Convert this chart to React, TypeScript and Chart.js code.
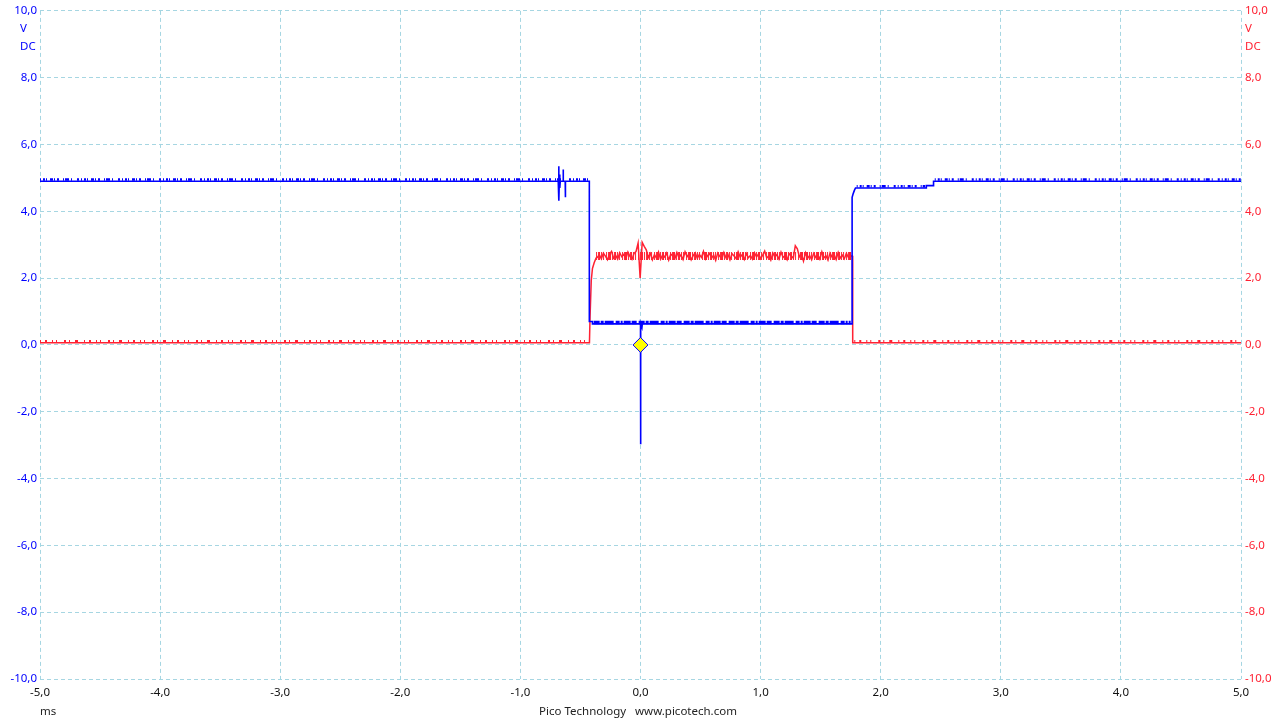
import React, { useEffect, useRef } from "react";
import { Chart, registerables } from "chart.js";

Chart.register(...registerables);

// ---- axis data ----
const xTickValues = [-5, -4, -3, -2, -1, 0, 1, 2, 3, 4, 5];
const xTickLabels = ["-5,0", "-4,0", "-3,0", "-2,0", "-1,0", "0,0", "1,0", "2,0", "3,0", "4,0", "5,0"];
const yTickValues = [10, 8, 6, 4, 2, 0, -2, -4, -6, -8, -10];
const yTickLabels = ["10,0", "8,0", "6,0", "4,0", "2,0", "0,0", "-2,0", "-4,0", "-6,0", "-8,0", "-10,0"];
const unitLabels = ["V", "DC"];
const xUnitLabel = "ms";
const footerLabel = "Pico Technology   www.picotech.com";

// ---- channel A (blue) breakpoints: [ms, V] ----
const blueTrace: [number, number][] = [
  [-5, 4.9], [-0.685, 4.9], [-0.681, 5.35], [-0.679, 4.32], [-0.676, 4.9],
  [-0.673, 5.1], [-0.671, 4.7], [-0.668, 4.9], [-0.644, 4.9], [-0.644, 5.25],
  [-0.642, 4.9], [-0.627, 4.9], [-0.626, 4.42], [-0.624, 4.9], [-0.426, 4.9],
  [-0.426, 0.7], [-0.4, 0.7], [-0.4, 0.63], [0, 0.63], [0, -2.97], [0.003, 0.63],
  [0.012, 0.52], [0.015, 0.63], [1.762, 0.63], [1.762, 4.42], [1.77, 4.52],
  [1.78, 4.62], [1.79, 4.7], [2.38, 4.7], [2.38, 4.77], [2.44, 4.77], [2.44, 4.9], [5, 4.9],
];

// ---- channel B (red) ----
const redLowBefore: [number, number][] = [[-5, 0.066], [-0.425, 0.066]];
const redRise: [number, number][] = [[-0.42, 0.85], [-0.41, 1.93], [-0.4, 2.29], [-0.385, 2.47], [-0.37, 2.6]];
const redPlateauStart = -0.36;
const redSampleStep = 0.017;
const redPlateau = [
  2.62, 2.70, 2.58, 2.75, 2.66, 2.55, 2.72, 2.80, 2.60, 2.68, 2.57, 2.76, 2.64, 2.71, 2.59, 2.78, 2.65, 2.56, 2.74, 2.80,
  3.05, 2.00, 3.07, 2.95, 2.85, 2.62, 2.74, 2.55, 2.70, 2.60, 2.78, 2.57, 2.69, 2.63, 2.75, 2.54, 2.72, 2.66, 2.58, 2.77,
  2.61, 2.70, 2.56, 2.79, 2.64, 2.73, 2.55, 2.68, 2.76, 2.59, 2.71, 2.62, 2.80, 2.57, 2.67, 2.74, 2.60, 2.69, 2.53, 2.75,
  2.65, 2.58, 2.77, 2.62, 2.71, 2.55, 2.73, 2.66, 2.59, 2.79, 2.63, 2.70, 2.56, 2.74, 2.61, 2.68, 2.57, 2.76, 2.64, 2.72,
  2.58, 2.69, 2.81, 2.60, 2.67, 2.54, 2.75, 2.63, 2.71, 2.57, 2.78, 2.62, 2.68, 2.55, 2.73, 2.66, 2.60, 2.97, 2.88, 2.64,
  2.72, 2.51, 2.76, 2.59, 2.68, 2.55, 2.74, 2.62, 2.70, 2.57, 2.79, 2.61, 2.67, 2.54, 2.75, 2.63, 2.71, 2.56, 2.77, 2.60,
  2.69, 2.58, 2.74, 2.62, 2.67,
];
const redFall: [number, number][] = [[1.765, 2.66], [1.767, 0.066]];
const redLowAfter: [number, number][] = [[5, 0.066]];

// ---- quantisation noise bands: [start ms, end ms, V] ----
const blueNoiseBands: [number, number, number][] = [
  [-5, -0.43, 4.95], [1.8, 2.37, 4.75], [2.45, 5, 4.95],
];
const blueNoiseLowBand: [number, number, number] = [-0.39, 1.75, 0.67];
const redNoiseBands: [number, number, number][] = [
  [-5, -0.43, 0.11], [1.78, 5, 0.11],
];
const redPlateauBand: [number, number, number] = [-0.37, 1.76, 2.66];

// ---- trigger marker ----
const triggerPoint: [number, number] = [0, 0];

const BLUE = "#0000ff";
const RED = "#ff2233";
const GRID = "#a6d6e2";
const FONT = "'Noto Sans'";
const FONT_SIZE = 11.5;

const toXY = (arr: [number, number][]) => arr.map(([x, y]) => ({ x, y }));

export default function App() {
  const ref = useRef<HTMLCanvasElement | null>(null);

  useEffect(() => {
    if (!ref.current) return;
    const redTrace = [
      ...toXY(redLowBefore),
      ...toXY(redRise),
      ...redPlateau.map((y, i) => ({ x: redPlateauStart + i * redSampleStep, y })),
      ...toXY(redFall),
      ...toXY(redLowAfter),
    ];

    const base = { pointRadius: 0, tension: 0, fill: false, borderCapStyle: "butt" as const };

    const datasets: any[] = [
      { ...base, label: "trigger", type: "scatter", data: [{ x: triggerPoint[0], y: triggerPoint[1] }], pointStyle: "rectRot", pointRadius: 7.5, backgroundColor: "#ffff00", borderColor: BLUE, borderWidth: 1, order: 0 },
      { ...base, label: "A", data: toXY(blueTrace), borderColor: BLUE, borderWidth: 1.6, order: 1 },
      ...blueNoiseBands.map(([a, b, v], i) => ({
        ...base, label: "An" + i, data: [{ x: a, y: v }, { x: b, y: v }], borderColor: BLUE, borderWidth: 2.5,
        borderDash: [1, 2, 2, 1, 1, 3, 3, 1, 1, 2, 2, 4, 1, 1, 4, 2, 1, 5, 2, 2], order: 2,
      })),
      { ...base, label: "Alow", data: [{ x: blueNoiseLowBand[0], y: blueNoiseLowBand[2] }, { x: blueNoiseLowBand[1], y: blueNoiseLowBand[2] }], borderColor: BLUE, borderWidth: 3.5, borderDash: [6, 1, 3, 1, 9, 2, 4, 1, 2, 1, 7, 1, 5, 2], order: 2 },
      { ...base, label: "B", data: redTrace, borderColor: RED, borderWidth: 1.5, order: 3 },
      { ...base, label: "Bband", data: [{ x: redPlateauBand[0], y: redPlateauBand[2] }, { x: redPlateauBand[1], y: redPlateauBand[2] }], borderColor: RED, borderWidth: 8, borderDash: [1, 1, 2, 1, 1, 1, 1, 2, 1, 1, 3, 1], order: 3 },
      ...redNoiseBands.map(([a, b, v], i) => ({
        ...base, label: "Bn" + i, data: [{ x: a, y: v }, { x: b, y: v }], borderColor: RED, borderWidth: 2.5,
        borderDash: [1, 4, 2, 5, 1, 3, 1, 7, 2, 3, 1, 5, 3, 6], order: 4,
      })),
    ];

    const extraText = {
      id: "extraText",
      afterDraw(chart: any) {
        const ctx = chart.ctx;
        ctx.save();
        ctx.font = `${FONT_SIZE}px ${FONT}`;
        ctx.textBaseline = "middle";
        ctx.textAlign = "left";
        ctx.fillStyle = BLUE;
        ctx.fillText(unitLabels[0], 20, 29);
        ctx.fillText(unitLabels[1], 20, 47);
        ctx.fillStyle = RED;
        ctx.fillText(unitLabels[0], 1245, 29);
        ctx.fillText(unitLabels[1], 1245, 47);
        ctx.fillStyle = "#222";
        ctx.fillText(xUnitLabel, 40, 712);
        ctx.textAlign = "center";
        ctx.fillText(footerLabel, 638, 712);
        ctx.restore();
      },
    };

    const gridOpts = { color: GRID, lineWidth: 1, drawTicks: false };
    const chart = new Chart(ref.current, {
      type: "line",
      data: { datasets },
      options: {
        animation: false,
        responsive: false,
        layout: { padding: { top: 10, left: 0, right: 0, bottom: 0 } },
        plugins: { legend: { display: false }, tooltip: { enabled: false } },
        scales: {
          x: {
            type: "linear", min: -5, max: 5,
            afterBuildTicks: (s: any) => { s.ticks = xTickValues.map((v) => ({ value: v })); },
            afterFit: (s: any) => { s.height = 41; },
            grid: gridOpts as any,
            border: { display: false, dash: [4, 3] } as any,
            ticks: {
              padding: 7, color: "#111", font: { family: FONT, size: FONT_SIZE },
              callback: (v: any) => xTickLabels[xTickValues.indexOf(Number(v))] ?? "",
              maxRotation: 0, autoSkip: false,
            },
          },
          y: {
            type: "linear", position: "left", min: -10, max: 10,
            afterBuildTicks: (s: any) => { s.ticks = yTickValues.map((v) => ({ value: v })); },
            afterFit: (s: any) => { s.width = 40; },
            grid: gridOpts as any,
            border: { display: false, dash: [4, 3] } as any,
            ticks: {
              padding: 3, color: BLUE, font: { family: FONT, size: FONT_SIZE },
              callback: (v: any) => yTickLabels[yTickValues.indexOf(Number(v))] ?? "",
              autoSkip: false,
            },
          },
          y2: {
            type: "linear", position: "right", min: -10, max: 10,
            afterBuildTicks: (s: any) => { s.ticks = yTickValues.map((v) => ({ value: v })); },
            afterFit: (s: any) => { s.width = 39; },
            grid: { display: false, drawTicks: false },
            border: { display: false },
            ticks: {
              padding: 4, color: RED, font: { family: FONT, size: FONT_SIZE },
              callback: (v: any) => yTickLabels[yTickValues.indexOf(Number(v))] ?? "",
              autoSkip: false,
            },
          },
        },
      },
      plugins: [extraText],
    } as any);

    return () => chart.destroy();
  }, []);

  return (
    <div style={{ position: "absolute", left: 0, top: 0, width: 1280, height: 720, background: "#fff" }}>
      <canvas ref={ref} width={1280} height={720} style={{ display: "block" }} />
    </div>
  );
}
